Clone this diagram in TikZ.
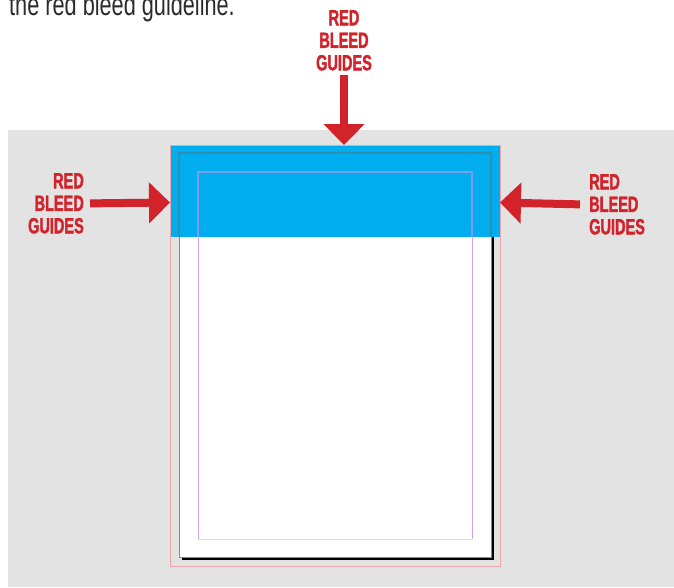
\documentclass[tikz,border=0pt]{standalone}
\usepackage{fontspec}
\setmainfont{Liberation Sans}
\newfontfamily\redfont[FakeStretch=0.66, BoldFeatures={FakeBold=1.6}]{Liberation Sans}
\newfontfamily\introfont[FakeStretch=0.70]{Liberation Sans}
\usetikzlibrary{arrows.meta}
\definecolor{bleedred}{HTML}{D2232A}
\definecolor{bggray}{HTML}{E3E3E3}
\definecolor{cyanblue}{HTML}{00AEEF}
\definecolor{bleedpink}{HTML}{F5A3AA}
\definecolor{trimgray}{HTML}{8A8A8A}
\definecolor{trimonblue}{HTML}{2E8FB0}
\definecolor{marginpurple}{HTML}{CDA2FA}
\definecolor{marginonblue}{HTML}{7C9CF2}
\definecolor{marginpink}{HTML}{FBC8F4}
\definecolor{textgray}{HTML}{2B2B2B}
\tikzset{
  redlabel/.style={inner sep=0pt, text=bleedred, font=\redfont\bfseries\fontsize{22}{22.5}\selectfont},
  redarrow/.style={draw=bleedred, line width=8pt, -{Triangle[width=40pt,length=21pt]}},
}
\begin{document}
\begin{tikzpicture}[x=1pt,y=-1pt]
\useasboundingbox (0,0) rectangle (674,587);
% intro text (cut off at top)
\node[anchor=base west, inner sep=0pt, text=textgray, font=\introfont\fontsize{31}{31}\selectfont] (intro) at (9,15) {the red bleed guideline.};
% background
\fill[bggray] (8,130) rectangle (674,587);
% page shadow and page
\fill[black] (181.5,155.5) rectangle (493.5,559.5);
\fill[white] (179,153) rectangle (491,557);
% blue header bleed
\fill[cyanblue] (170,145) rectangle (500,237);
% trim line
\draw[trimgray, line width=1pt] (179,237) -- (179,557) -- (491,557) -- (491,237);
\draw[trimonblue, line width=1.2pt] (179,237) -- (179,153) -- (491,153) -- (491,237);
% margin guides
\draw[marginpurple, line width=1pt] (198,539) -- (198,237) (472,237) -- (472,539);
\draw[marginonblue, line width=1.2pt] (198,237) -- (198,172) -- (472,172) -- (472,237);
\draw[marginpink, line width=1pt] (198,539) -- (472,539);
% bleed guide
\draw[bleedpink, line width=1pt] (170,145) rectangle (500,566);
\coordinate (tiptop) at (344,145);
\coordinate (tipleft) at (170,202.5);
\coordinate (tipright) at (500,202.5);
% labels
\node[redlabel, align=center, anchor=north] (ltop) at (344,10) {RED\\BLEED\\GUIDES};
\node[redlabel, align=right, anchor=north east] (lleft) at (84,173) {RED\\BLEED\\GUIDES};
\node[redlabel, align=left, anchor=north west] (lright) at (589,174) {RED\\BLEED\\GUIDES};
% arrows
\draw[redarrow] (ltop.south) ++(0,4) -- (tiptop);
\draw[redarrow] (lleft.east) ++(6,0) -- (tipleft);
\draw[redarrow] (lright.west) ++(-9,0) -- (tipright);
\end{tikzpicture}
\end{document}
